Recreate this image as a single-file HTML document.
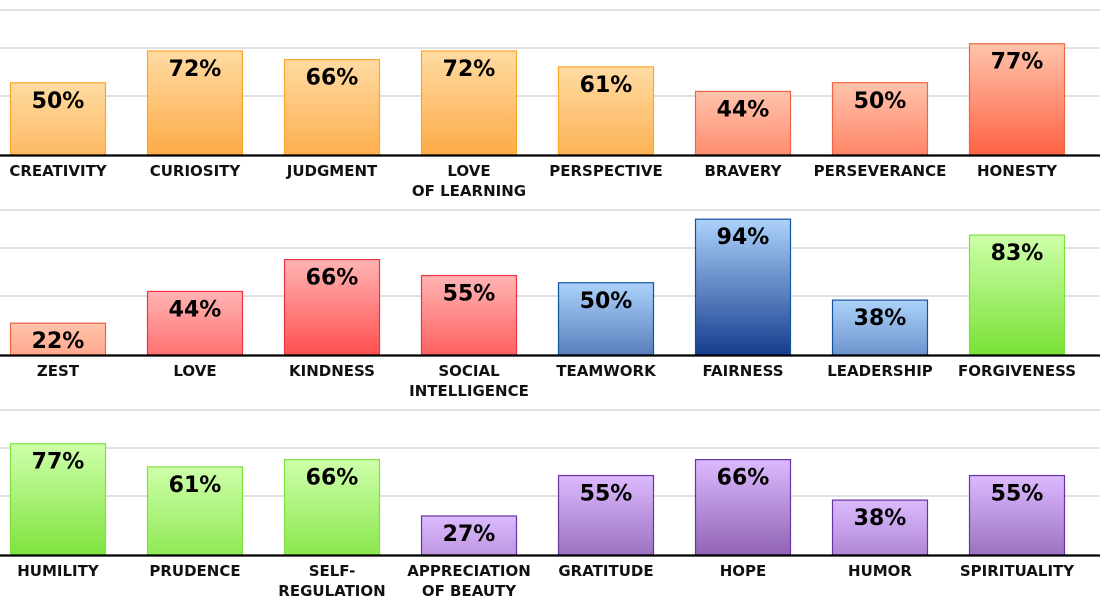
<!DOCTYPE html>
<html><head><meta charset="utf-8"><style>
body{margin:0;background:#fff;font-family:"Liberation Sans","DejaVu Sans",sans-serif}
svg text{font-family:"DejaVu Sans","Liberation Sans",sans-serif;font-weight:bold}
</style></head><body>
<svg id="chart" width="1100" height="600"></svg>
<script>
const categories=[["CREATIVITY"],["CURIOSITY"],["JUDGMENT"],["LOVE","OF LEARNING"],["PERSPECTIVE"],["BRAVERY"],["PERSEVERANCE"],["HONESTY"],
["ZEST"],["LOVE"],["KINDNESS"],["SOCIAL","INTELLIGENCE"],["TEAMWORK"],["FAIRNESS"],["LEADERSHIP"],["FORGIVENESS"],
["HUMILITY"],["PRUDENCE"],["SELF-","REGULATION"],["APPRECIATION","OF BEAUTY"],["GRATITUDE"],["HOPE"],["HUMOR"],["SPIRITUALITY"]];
const values=[50,72,66,72,61,44,50,77,22,44,66,55,50,94,38,83,77,61,66,27,55,66,38,55];
const groups=["o","o","o","o","o","s","s","s","s","r","r","r","b","b","b","g","g","g","g","p","p","p","p","p"];
const palette={o:["#fedba2","#fd9f30","#f9a82c"],s:["#ffc4ac","#ff5232","#ef6444"],r:["#ffb4b4","#ff2a2a","#e83444"],
b:["#acd2fb","#163c8e","#1452a2"],g:["#ceffaa","#72de2c","#80e040"],p:["#dcbaff","#744498","#6a32a2"]};
const NS="http://www.w3.org/2000/svg",svg=document.getElementById("chart");
function mk(t,a){const e=document.createElementNS(NS,t);for(const k in a)e.setAttribute(k,a[k]);return e;}
function hx(c){return [1,3,5].map(i=>parseInt(c.substr(i,2),16));}
function mix(a,b,t){const A=hx(a),B=hx(b);return "rgb("+A.map((v,i)=>Math.round(v+(B[i]-v)*t)).join(",")+")";}
const baselines=[155,355,555],pxPer=1.445;
const x=i=>10+(i%8)*137, y=(v,p)=>baselines[p]-v*pxPer;
const defs=mk("defs",{});svg.appendChild(defs);
baselines.forEach((b,p)=>{
 [b-145,b-107,b-59].forEach(gy=>{const l=mk("line",{x1:0,x2:1100,y1:gy,y2:gy,stroke:"#cfcfcf","stroke-width":1.3});
 
 
 svg.appendChild(l);});
});
values.forEach((v,i)=>{
 const p=Math.floor(i/8),c=palette[groups[i]];
 const g=mk("linearGradient",{id:"g"+i,x1:0,y1:0,x2:0,y2:1});
 g.appendChild(mk("stop",{offset:0,"stop-color":c[0]}));
 g.appendChild(mk("stop",{offset:1,"stop-color":mix(c[0],c[1],Math.min(1,v/90))}));
 defs.appendChild(g);
 const top=y(v,p);
 const r=mk("rect",{x:x(i)+0.5,y:top,width:95,height:baselines[p]-top,fill:"url(#g"+i+")",stroke:c[2],"stroke-width":1.2});
 
 
 svg.appendChild(r);
 const t=mk("text",{x:x(i)+48,y:top+25,"text-anchor":"middle","font-size":22,fill:"#000"});
 t.textContent=v+"%";
 
 
 svg.appendChild(t);
 categories[i].forEach((s,k)=>{
  const ct=mk("text",{x:x(i)+48,y:baselines[p]+21+k*20,"text-anchor":"middle","font-size":15,fill:"#111"});
  ct.textContent=s;
  
  
  svg.appendChild(ct);
 });
});
baselines.forEach(b=>{const l=mk("line",{x1:0,x2:1100,y1:b+0.5,y2:b+0.5,stroke:"#000","stroke-width":2.2});
 
 
 svg.appendChild(l);});
</script>
</body></html>
